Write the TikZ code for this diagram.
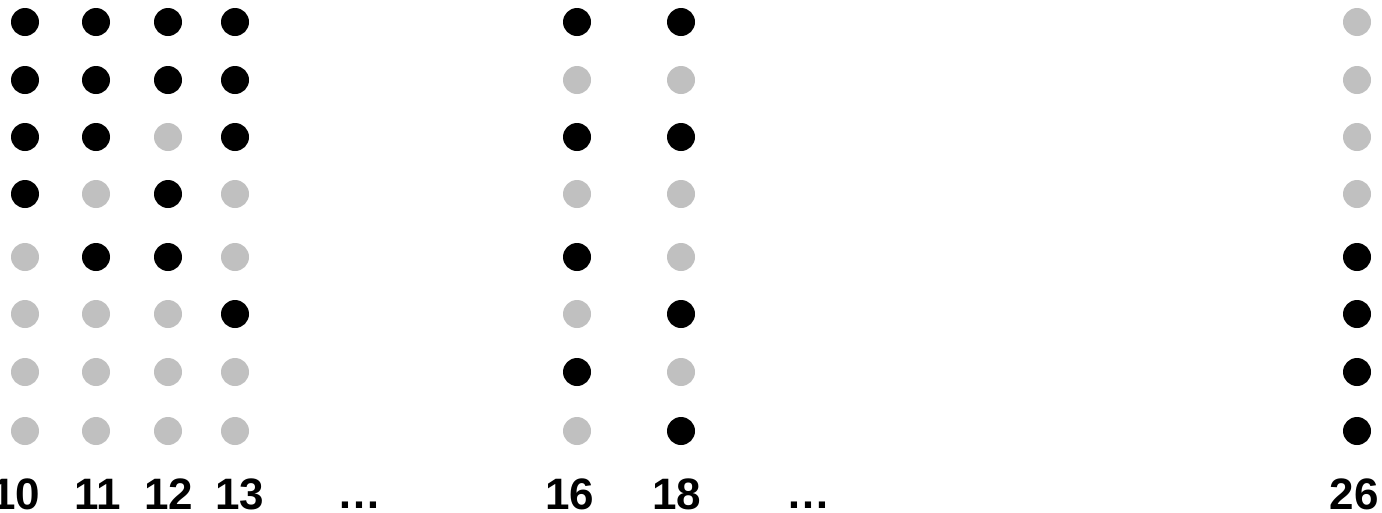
\documentclass[tikz,border=0pt]{standalone}
\usepackage{fontspec}
\setmainfont{Liberation Sans}
\usetikzlibrary{positioning}
\definecolor{dot1}{HTML}{000000}
\definecolor{dot0}{HTML}{C0C0C0}

\begin{document}
\begin{tikzpicture}[x=1pt,y=-1pt,
  bead/.style={circle,inner sep=0pt,minimum size=28pt,draw=none},
  collabel/.style={font=\fontsize{44}{50}\selectfont\bfseries,anchor=base,inner sep=0pt}]
\useasboundingbox (0,0) rectangle (1382,512);
\newcommand{\beadcol}[4]{%
  \foreach \b [count=\r] in {#4} {
    \pgfmathsetmacro{\rowy}{{22,80,137,194,257,314,372,431}[\r-1]}
    \node[bead,fill=dot\b] (c#2-\r) at (#1,\rowy) {};
  }
  \node[collabel] (lbl#2) at (#3,509) {#2};
}

\beadcol{25}{10}{16}{1,1,1,1,0,0,0,0}
\beadcol{96}{11}{97.5}{1,1,1,0,1,0,0,0}
\beadcol{168}{12}{169}{1,1,0,1,1,0,0,0}
\beadcol{235}{13}{240}{1,1,1,0,0,1,0,0}
\beadcol{577}{16}{569.5}{1,0,1,0,1,0,1,0}
\beadcol{681}{18}{676.5}{1,0,1,0,0,1,0,1}
\beadcol{1357}{26}{1354}{0,0,0,0,1,1,1,1}

\node[collabel] (gapA) at (359,508) {…};
\node[collabel] (gapB) at (808,508) {…};
\end{tikzpicture}
\end{document}
